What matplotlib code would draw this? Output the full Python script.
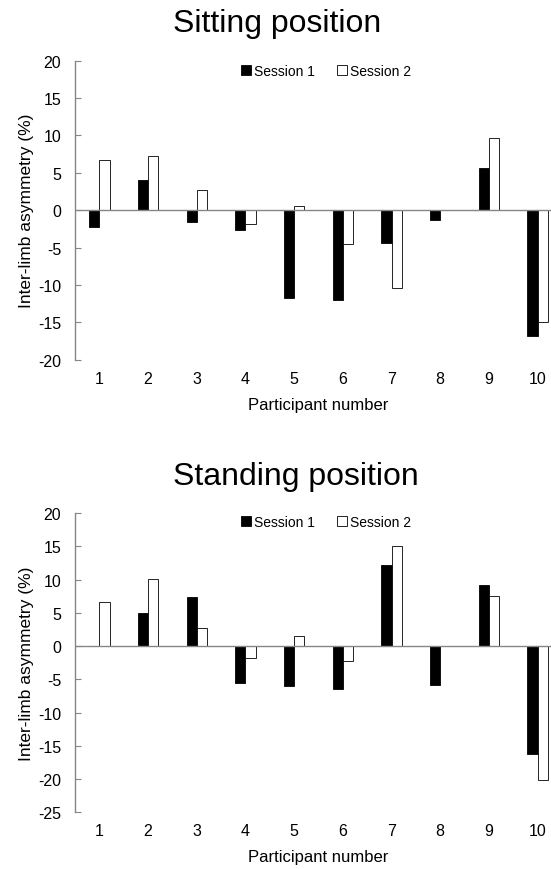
import numpy as np
import matplotlib
matplotlib.use("Agg")
import matplotlib.pyplot as plt
from matplotlib.patches import Patch

plt.rcParams['font.family'] = ['Liberation Sans', 'DejaVu Sans']
plt.rcParams['font.size'] = 10
plt.rcParams['axes.unicode_minus'] = False

# data
participants = [1, 2, 3, 4, 5, 6, 7, 8, 9, 10]
sitting_s1 = [-2.2, 4.0, -1.55, -2.6, -11.7, -12.05, -4.4, -1.25, 5.6, -16.8]
sitting_s2 = [6.75, 7.3, 2.75, -1.8, 0.55, -4.55, -10.35, 0.0, 9.65, -14.95]
standing_s1 = [0.0, 4.95, 7.35, -5.55, -6.0, -6.5, 12.2, -5.8, 9.2, -16.25]
standing_s2 = [6.6, 10.05, 2.7, -1.75, 1.6, -2.3, 15.1, 0.0, 7.55, -20.2]

axis_grey = '#868686'
bar_w = 0.21


def draw_panel(ax, s1, s2, ylim, title, title_y, legend_y):
    x = np.array(participants)
    ax.bar(x - bar_w / 2, s1, bar_w, color='black', edgecolor='black', linewidth=0.6)
    ax.bar(x + bar_w / 2, s2, bar_w, color='white', edgecolor='black', linewidth=0.6)
    ax.axhline(0, color=axis_grey, linewidth=1.0, zorder=3)

    ax.set_xlim(0.5, 10.5)
    ax.set_ylim(*ylim)
    ax.set_yticks(np.arange(ylim[0], ylim[1] + 1, 5))
    ax.set_xticks(x)
    ax.set_xticklabels([str(p) for p in participants])

    for s in ['top', 'right', 'bottom']:
        ax.spines[s].set_visible(False)
    ax.spines['left'].set_color(axis_grey)
    ax.spines['left'].set_linewidth(1.0)
    ax.tick_params(axis='y', direction='in', length=4, color=axis_grey, pad=10,
                   labelsize=11.5)
    ax.tick_params(axis='x', length=0, pad=8, labelsize=11.5)

    ax.set_ylabel('Inter-limb asymmetry (%)', labelpad=3, fontsize=12.5)
    ax.set_xlabel('Participant number', labelpad=8, fontsize=12)

    fig = ax.figure
    # both titles start at the same left position in the reference
    fig.text(173 / 551, title_y, title, ha='left', va='baseline', fontsize=23)

    handles = [Patch(facecolor='black', edgecolor='black', linewidth=0.6),
               Patch(facecolor='white', edgecolor='black', linewidth=0.6)]
    ax.legend(handles, ['Session 1', 'Session 2'], ncol=2, frameon=False,
              loc='center', bbox_to_anchor=(0.5917, legend_y),
              bbox_transform=fig.transFigure, handlelength=0.75, handleheight=0.75,
              handletextpad=0.2, columnspacing=1.6, borderpad=0)


fig = plt.figure(figsize=(5.51, 8.70), dpi=100)
ax1 = fig.add_axes([0.1361, 0.5854, 0.8838, 0.3437])
ax2 = fig.add_axes([0.1361, 0.0652, 0.8838, 0.3437])

draw_panel(ax1, sitting_s1, sitting_s2, (-20, 20), 'Sitting position',
           1 - 32 / 870, 1 - 72 / 870)
draw_panel(ax2, standing_s1, standing_s2, (-25, 20), 'Standing position',
           1 - 485 / 870, 1 - 523 / 870)

fig.savefig('out.png', dpi=100)
